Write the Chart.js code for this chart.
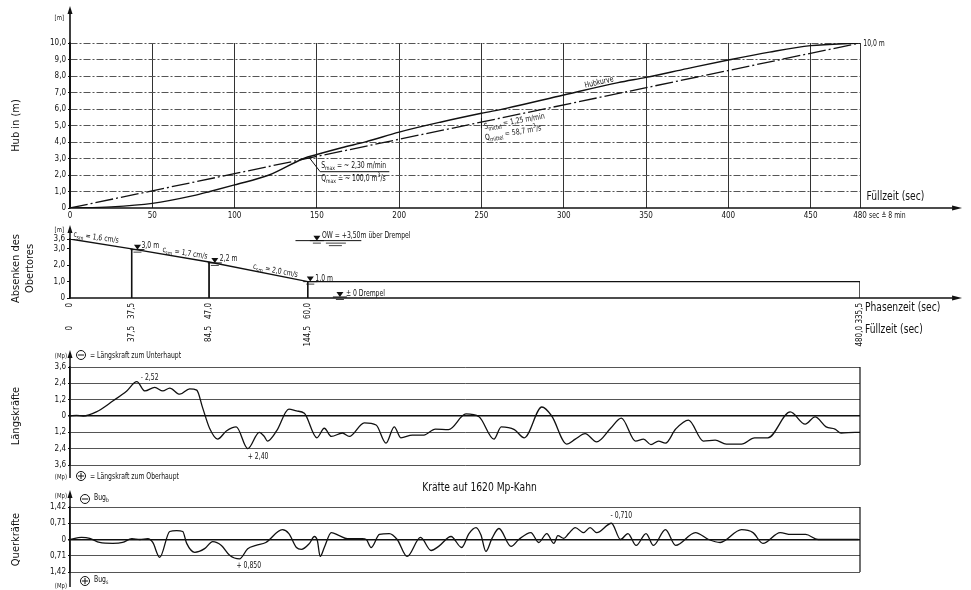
<!DOCTYPE html>
<html>
<head>
<meta charset="utf-8">
<script src="https://cdn.jsdelivr.net/npm/chart.js@4.4.1/dist/chart.umd.min.js"></script>
<style>
  body { margin: 0; background: #fff; }
  #sheet { position: relative; width: 971px; height: 590px; background: #fff; }
  #sheet canvas { position: absolute; left: 0; }
</style>
</head>
<body>
<div id="sheet">
  <canvas id="hubChart" width="971" height="222" style="top:0"></canvas>
  <canvas id="gateChart" width="971" height="126" style="top:222px"></canvas>
  <canvas id="longChart" width="971" height="134" style="top:348px"></canvas>
  <canvas id="crossChart" width="971" height="108" style="top:482px"></canvas>
</div>
<script>
// Hubkurve over Füllzeit (sec -> m)
const fillTimes = [0, 25, 50, 75, 85, 100, 121, 142, 150, 165, 180, 200, 225, 250, 265, 300, 333, 350, 375, 400, 425, 450, 480]
const liftValues = [0, 0.07, 0.28, 0.75, 1.0, 1.4, 2.0, 3.0, 3.24, 3.65, 4.02, 4.6, 5.2, 5.74, 6.04, 6.85, 7.6, 7.92, 8.45, 8.97, 9.45, 9.84, 10.0]
// mean lift (S mittel)
const meanTimes = [0, 480]
const meanLift = [0, 10.0]
const hubTicksX = [0, 50, 100, 150, 200, 250, 300, 350, 400, 450, 480]
const hubTicksY = [0, 1, 2, 3, 4, 5, 6, 7, 8, 9, 10]

// Absenken des Obertores
const gateTimes = [0, 37.5, 84.5, 144.5, 480, 480]
const gateLevels = [3.6, 3.0, 2.2, 1.0, 1.0, 0]
const gateTicksY = [0, 1, 2, 3, 3.6]
const markTimes = [0, 37.5, 84.5, 144.5, 480]
const phaseLabels = ['0', '37,5', '47,0', '60,0', '335,5']
const fillLabels = ['0', '37,5', '84,5', '144,5', '480,0']

// Längskräfte (Mp), negative = zum Unterhaupt (drawn upward)
const longTimes = [0, 4, 8, 16, 26, 34.5, 40.6, 45.5, 51.5, 56.4, 60.6, 66.7, 72.7, 77, 80.6, 84.8, 89.7, 95, 101, 108, 115, 118, 120, 125.5, 133, 137.6, 142.4, 150, 154.5, 158.8, 165.5, 169.7, 178.8, 186, 192, 197, 201, 208, 215, 222, 230, 240.6, 248.5, 257.6, 262, 270, 276, 286.7, 292.7, 301.8, 307, 313, 320, 328.5, 335, 343.6, 348.5, 353, 357.6, 361.8, 368, 375.8, 384.8, 392, 398.8, 408, 416, 424, 437.6, 446.7, 452.7, 459.4, 464.8, 468.5, 477, 480]
const longForces = [0, -0.05, 0, -0.3, -1.1, -1.84, -2.52, -1.84, -2.1, -1.84, -2.05, -1.6, -2.0, -1.9, -0.6, 0.9, 1.7, 1.1, 0.8, 2.4, 1.2, 1.5, 1.84, 1.1, -0.5, -0.37, -0.2, 1.6, 0.9, 1.5, 1.25, 1.5, 0.5, 0.66, 2.0, 0.8, 1.6, 1.4, 1.4, 0.96, 1.0, -0.15, 0.05, 1.7, 0.8, 1.0, 1.6, -0.66, 0, 2.06, 1.7, 1.3, 1.9, 0.9, 0.15, 1.84, 1.7, 2.1, 1.84, 2.0, 0.96, 0.3, 1.84, 1.77, 2.06, 2.06, 1.6, 1.6, -0.3, 0.6, 0.07, 0.8, 0.96, 1.25, 1.2, 1.2]
const longTicks = [-3.6, -2.4, -1.2, 0, 1.2, 2.4, 3.6]

// Querkräfte (Mp), negative = Bug b (drawn upward)
const crossTimes = [0, 7, 12, 18, 26, 32, 37.6, 42.4, 47.3, 50.3, 54.5, 60.6, 64.8, 68.5, 70.9, 75.8, 81.8, 86.7, 92, 97, 103, 108, 113, 119, 129, 133, 137.6, 140.6, 145.5, 148.5, 150.3, 152, 154.5, 158.8, 163.6, 168.5, 177.6, 180, 183, 188, 194, 198.8, 204.8, 213, 219.4, 224, 231.5, 238, 242.4, 246.7, 249.7, 252.7, 256.4, 260.6, 268, 272.7, 280, 284.8, 289.7, 294, 296.4, 300, 303, 307, 312, 316, 320, 329, 334.5, 339, 344, 350, 354.5, 361.8, 368, 380, 388, 395, 408, 415, 421, 431.5, 438, 447, 454.5, 471, 479]
const crossForces = [0, -0.09, -0.05, 0.13, 0.17, 0.13, -0.04, 0, -0.04, 0.13, 0.78, -0.35, -0.39, -0.35, 0.17, 0.56, 0.4, 0.09, 0.26, 0.69, 0.85, 0.4, 0.26, 0.13, -0.43, -0.26, 0.35, 0.43, 0.17, -0.13, 0.05, 0.74, 0.35, -0.3, -0.17, -0.04, -0.04, 0, 0.35, -0.22, -0.26, 0, 0.74, -0.09, 0.48, 0.3, -0.13, 0.35, -0.26, -0.52, -0.2, 0.52, -0.05, -0.48, 0.3, 0, -0.3, 0.13, -0.26, 0.17, -0.17, -0.05, -0.26, -0.52, -0.3, -0.52, -0.3, -0.71, 0, -0.26, 0.26, -0.26, 0.26, -0.43, 0.26, -0.3, 0, 0.13, -0.43, -0.3, 0.17, -0.3, -0.22, -0.22, 0, 0, 0]
const crossTicks = [-1.42, -0.71, 0, 0.71, 1.42]

const INK = '#111'
const FONT = "'DejaVu Sans Condensed', 'Liberation Sans Narrow', 'DejaVu Sans', sans-serif"
const tickFont = { family: FONT, size: 8 }
const titleFont = { family: FONT, size: 11 }

Chart.defaults.color = INK
Chart.defaults.font.family = FONT

const points = (xs, ys) => xs.map((t, i) => ({ x: t, y: ys[i] }))
const comma = digits => v => v === 0 ? '0' : Math.abs(v).toFixed(digits).replace('.', ',')

function write(ctx, str, x, y, size, opts = {}) {
  ctx.save()
  ctx.translate(x, y)
  if (opts.rot) ctx.rotate(opts.rot * Math.PI / 180)
  ctx.scale(opts.squeeze || 0.85, 1)
  ctx.font = `${size}px ${FONT}`
  ctx.fillStyle = INK
  ctx.textAlign = opts.align || 'left'
  ctx.textBaseline = 'alphabetic'
  ctx.fillText(str, 0, 0)
  ctx.restore()
}

// text with sub/superscript pieces
function rich(ctx, parts, x, y, size, rot = 0) {
  ctx.save()
  ctx.translate(x, y)
  ctx.rotate(rot * Math.PI / 180)
  ctx.scale(0.85, 1)
  ctx.fillStyle = INK
  let cx = 0
  parts.forEach(([t, kind]) => {
    ctx.font = `${kind ? Math.round(size * 0.75) : size}px ${FONT}`
    const dy = kind === 'sub' ? size * 0.3 : kind === 'sup' ? -size * 0.45 : 0
    ctx.fillText(t, cx, dy)
    cx += ctx.measureText(t).width
  })
  ctx.restore()
}

function stroke(ctx, pts, width = 1, dash = []) {
  ctx.save()
  ctx.strokeStyle = INK
  ctx.lineWidth = width
  ctx.setLineDash(dash)
  ctx.beginPath()
  pts.forEach(([px, py], i) => i ? ctx.lineTo(px, py) : ctx.moveTo(px, py))
  ctx.stroke()
  ctx.restore()
}

function arrow(ctx, px, py, dir) {
  ctx.save()
  ctx.fillStyle = INK
  ctx.beginPath()
  if (dir === 'up') {
    ctx.moveTo(px, py); ctx.lineTo(px - 2.5, py + 8); ctx.lineTo(px + 2.5, py + 8)
  } else {
    ctx.moveTo(px, py); ctx.lineTo(px - 10, py - 2.5); ctx.lineTo(px - 10, py + 2.5)
  }
  ctx.closePath()
  ctx.fill()
  ctx.restore()
}

// water level mark
function level(ctx, px, py) {
  stroke(ctx, [[px - 7, py], [px + 7, py]], 1)
  ctx.save()
  ctx.fillStyle = INK
  ctx.beginPath()
  ctx.moveTo(px - 3.5, py - 5); ctx.lineTo(px + 3.5, py - 5); ctx.lineTo(px, py)
  ctx.closePath()
  ctx.fill()
  ctx.restore()
  stroke(ctx, [[px - 4, py + 2.5], [px + 4, py + 2.5]], 0.8)
}

function sign(ctx, px, py, plus) {
  ctx.save()
  ctx.strokeStyle = INK
  ctx.lineWidth = 1
  ctx.beginPath()
  ctx.arc(px, py, 4.5, 0, Math.PI * 2)
  ctx.stroke()
  ctx.beginPath()
  ctx.moveTo(px - 3, py); ctx.lineTo(px + 3, py)
  if (plus) { ctx.moveTo(px, py - 3); ctx.lineTo(px, py + 3) }
  ctx.stroke()
  ctx.restore()
}

const baseOptions = (padding) => ({
  responsive: false,
  animation: false,
  devicePixelRatio: 1,
  layout: { padding },
  plugins: { legend: { display: false }, tooltip: { enabled: false } }
})

const lineStyle = { borderColor: INK, borderWidth: 1.3, pointRadius: 0, fill: false }

// ---------- Hub ----------
const hubExtras = {
  id: 'hubExtras',
  afterDraw(chart) {
    const { ctx, scales: { x, y } } = chart
    const p = (t, v) => [x.getPixelForValue(t), y.getPixelForValue(v)]
    const [x0, y0] = p(0, 0)
    stroke(ctx, [[x0, y0], [x.getPixelForValue(536), y0]], 1.6)
    arrow(ctx, x.getPixelForValue(542), y0, 'right')
    stroke(ctx, [[x0, y0], [x0, 12]], 1.6)
    arrow(ctx, x0, 6, 'up')
    write(ctx, '[m]', x0 - 6, 20, 7, { align: 'right' })
    write(ctx, '10,0 m', x.getPixelForValue(482), y.getPixelForValue(10) + 3, 8)
    write(ctx, 'Füllzeit (sec)', x.getPixelForValue(484), y0 - 8, 12)
    write(ctx, 'sec ≙ 8 min', x.getPixelForValue(480) + 9, y0 + 10, 8)

    const knee = p(152, 2.2)
    stroke(ctx, [p(145, 3.1), knee, p(194, 2.2)], 1)
    rich(ctx, [['S'], ['max', 'sub'], [' = ~ 2,30 m/min']], knee[0] + 1, knee[1] - 4, 8)
    rich(ctx, [['Q'], ['max', 'sub'], [' = ~ 100,0 m'], ['3', 'sup'], ['/s']], knee[0] + 1, knee[1] + 9, 8)

    const mean = p(250, 250 * meanLift[1] / meanTimes[1])
    stroke(ctx, [[mean[0], mean[1] - 4], [mean[0], mean[1] + 6]], 1)
    rich(ctx, [['S'], ['mittel', 'sub'], [' = 1,25 m/min']], mean[0] + 3, mean[1] + 7, 8, -10)
    rich(ctx, [['Q'], ['mittel', 'sub'], [' = 58,7 m'], ['3', 'sup'], ['/s']], mean[0] + 4, mean[1] + 18, 8, -10)

    const hk = p(313, 7.1)
    write(ctx, 'Hubkurve', hk[0], hk[1] - 3, 8, { rot: -13 })
  }
}

new Chart(document.getElementById('hubChart'), {
  type: 'line',
  data: {
    datasets: [
      { ...lineStyle, data: points(fillTimes, liftValues), borderWidth: 1.4, cubicInterpolationMode: 'monotone' },
      { ...lineStyle, data: points(meanTimes, meanLift), borderDash: [18, 3, 2, 3] }
    ]
  },
  options: {
    ...baseOptions({ top: 43, right: 111, bottom: 0, left: 0 }),
    scales: {
      x: {
        type: 'linear', min: 0, max: 480,
        afterBuildTicks: s => { s.ticks = hubTicksX.map(v => ({ value: v })) },
        afterFit: s => { s.height = 14 },
        grid: { color: '#333', lineWidth: 1, drawTicks: false },
        border: { display: false },
        ticks: { font: tickFont, color: INK, padding: 3, autoSkip: false, maxRotation: 0, callback: v => String(v) }
      },
      y: {
        min: 0, max: 10,
        afterBuildTicks: s => { s.ticks = hubTicksY.map(v => ({ value: v })) },
        afterFit: s => { s.width = 70 },
        grid: { color: c => c.tick && c.tick.value === 0 ? 'rgba(0,0,0,0)' : '#555', tickColor: INK, tickLength: 2 },
        border: { display: true, color: INK, width: 1.5, dash: [7, 2, 2, 2] },
        ticks: { font: tickFont, color: INK, padding: 2, callback: comma(1) },
        title: { display: true, text: 'Hub in (m)', font: titleFont, color: INK, padding: { top: 10 } }
      }
    }
  },
  plugins: [hubExtras]
})

// ---------- Absenken des Obertores ----------
const gateExtras = {
  id: 'gateExtras',
  afterDraw(chart) {
    const { ctx, scales: { x, y } } = chart
    const p = (t, v) => [x.getPixelForValue(t), y.getPixelForValue(v)]
    const [x0, y0] = p(0, 0)
    stroke(ctx, [[x0, y0], [x.getPixelForValue(536), y0]], 1.6)
    arrow(ctx, x.getPixelForValue(542), y0, 'right')
    stroke(ctx, [[x0, y0], [x0, y.getPixelForValue(4.2)]], 1.5)
    arrow(ctx, x0, y.getPixelForValue(4.45), 'up')
    write(ctx, '[m]', x0 - 6, y.getPixelForValue(4.05), 7, { align: 'right' })
    write(ctx, 'Phasenzeit (sec)', x.getPixelForValue(483), y0 + 13, 12)
    write(ctx, 'Füllzeit (sec)', x.getPixelForValue(483), y0 + 35, 12)

    // velocities along the gate line
    const c1 = p(2, 3.57)
    rich(ctx, [['c'], ['sm', 'sub'], [' = 1,6 cm/s']], c1[0], c1[1] - 3, 8, 8)
    const c2 = p(56, 2.7)
    rich(ctx, [['c'], ['sm', 'sub'], [' = 1,7 cm/s']], c2[0], c2[1] - 2, 8, 9)
    const c3 = p(111, 1.68)
    rich(ctx, [['c'], ['sm', 'sub'], [' = 2,0 cm/s']], c3[0], c3[1] - 2, 8, 11)

    // level marks
    const l1 = p(41, 2.95)
    level(ctx, l1[0], l1[1])
    write(ctx, '3,0 m', l1[0] + 4, l1[1] - 2, 8)
    const l2 = p(88, 2.14)
    level(ctx, l2[0], l2[1])
    write(ctx, '2,2 m', l2[0] + 5, l2[1] - 2, 8)
    const l3 = p(146, 1.0)
    level(ctx, l3[0], l3[1])
    write(ctx, '1,0 m', l3[0] + 5, l3[1] - 1, 8)

    const ow = p(150, 3.5)
    stroke(ctx, [p(137, 3.5), p(177, 3.5)], 1)
    level(ctx, ow[0], ow[1])
    stroke(ctx, [[ow[0] + 9, ow[1] + 2.5], [ow[0] + 29, ow[1] + 2.5]], 0.8)
    stroke(ctx, [[ow[0] + 12, ow[1] + 5], [ow[0] + 25, ow[1] + 5]], 0.8)
    write(ctx, 'OW = +3,50m über Drempel', ow[0] + 5, ow[1] - 3, 8)

    const dr = p(164, 0)
    level(ctx, dr[0], dr[1] - 1)
    write(ctx, '± 0 Drempel', dr[0] + 6, dr[1] - 2, 8)
  }
}

const drops = [1, 2, 3].map(i => ({ ...lineStyle, borderWidth: i === 2 ? 1 : 1.6, data: points([gateTimes[i], gateTimes[i]], [gateLevels[i], 0]) }))

const bottomAxis = (labels, height, padding, weight) => ({
  type: 'linear', min: 0, max: 480, position: 'bottom', weight,
  afterBuildTicks: s => { s.ticks = markTimes.map(v => ({ value: v })) },
  afterFit: s => { s.height = height },
  grid: { drawOnChartArea: false, drawTicks: false },
  border: { display: false },
  ticks: { font: tickFont, color: INK, padding, autoSkip: false, minRotation: 90, maxRotation: 90, callback: (v, i) => labels[i] }
})

new Chart(document.getElementById('gateChart'), {
  type: 'line',
  data: {
    datasets: [
      { ...lineStyle, data: points(gateTimes, gateLevels), borderWidth: 1.4 },
      ...drops
    ]
  },
  options: {
    ...baseOptions({ top: 17, right: 111, bottom: 0, left: 0 }),
    scales: {
      x: bottomAxis(phaseLabels, 25, 5, 0),
      x2: bottomAxis(fillLabels, 25, 3, 1),
      y: {
        min: 0, max: 3.6,
        afterBuildTicks: s => { s.ticks = gateTicksY.map(v => ({ value: v })) },
        afterFit: s => { s.width = 70 },
        grid: { drawOnChartArea: false, tickColor: INK, tickLength: 3 },
        border: { display: true, color: INK, width: 1.5 },
        ticks: { font: tickFont, color: INK, padding: 2, callback: comma(1) },
        title: { display: true, text: ['Absenken des', 'Obertores'], font: titleFont, color: INK, padding: { top: 10 } }
      }
    }
  },
  plugins: [gateExtras]
})

// ---------- force panels ----------
const forceScale = (ticks, max, digits, title) => ({
  reverse: true, min: -max, max,
  afterBuildTicks: s => { s.ticks = ticks.map(v => ({ value: v })) },
  afterFit: s => { s.width = 70 },
  grid: {
    color: c => c.tick && c.tick.value === 0 ? INK : '#555',
    lineWidth: c => c.tick && c.tick.value === 0 ? 1.5 : 1,
    tickColor: INK, tickLength: 2
  },
  border: { display: true, color: INK, width: 1.5 },
  ticks: { font: tickFont, color: INK, padding: 2, callback: comma(digits) },
  title: { display: true, text: title, font: titleFont, color: INK, padding: { top: 10 } }
})

const longExtras = {
  id: 'longExtras',
  afterDraw(chart) {
    const { ctx, chartArea: a, scales: { x, y } } = chart
    const x0 = a.left
    stroke(ctx, [[x0, a.top - 12], [x0, a.bottom + 13]], 1.5)
    arrow(ctx, x0, a.top - 17, 'up')
    stroke(ctx, [[a.right, a.top], [a.right, a.bottom]], 1.2)
    write(ctx, '(Mp)', x0 - 3, a.top - 9, 7, { align: 'right' })
    write(ctx, '(Mp)', x0 - 3, a.bottom + 14, 7, { align: 'right' })
    sign(ctx, x0 + 11, a.top - 12, false)
    write(ctx, '= Längskraft zum Unterhaupt', x0 + 20, a.top - 9, 8)
    sign(ctx, x0 + 11, a.bottom + 11, true)
    write(ctx, '= Längskraft zum Oberhaupt', x0 + 20, a.bottom + 14, 8)
    const lo = longForces.indexOf(Math.min(...longForces))
    const hi = longForces.indexOf(Math.max(...longForces))
    write(ctx, '- 2,52', x.getPixelForValue(longTimes[lo]) + 4, y.getPixelForValue(longForces[lo]) - 2, 8)
    write(ctx, '+ 2,40', x.getPixelForValue(longTimes[hi]), y.getPixelForValue(longForces[hi]) + 10, 8)
  }
}

new Chart(document.getElementById('longChart'), {
  type: 'line',
  data: { datasets: [{ ...lineStyle, data: points(longTimes, longForces), cubicInterpolationMode: 'monotone' }] },
  options: {
    ...baseOptions({ top: 19, right: 111, bottom: 17, left: 0 }),
    scales: {
      x: { type: 'linear', min: 0, max: 480, display: false },
      y: forceScale(longTicks, 3.6, 1, 'Längskräfte')
    }
  },
  plugins: [longExtras]
})

const crossExtras = {
  id: 'crossExtras',
  afterDraw(chart) {
    const { ctx, chartArea: a, scales: { x, y } } = chart
    const x0 = a.left
    stroke(ctx, [[x0, a.top - 12], [x0, a.bottom + 15]], 1.5)
    arrow(ctx, x0, a.top - 17, 'up')
    stroke(ctx, [[a.right, a.top], [a.right, a.bottom]], 1.2)
    write(ctx, 'Kräfte auf 1620 Mp-Kahn', x.getPixelForValue(214), a.top - 16, 12)
    write(ctx, '(Mp)', x0 - 3, a.top - 9, 7, { align: 'right' })
    write(ctx, '(Mp)', x0 - 3, a.bottom + 16, 7, { align: 'right' })
    sign(ctx, x0 + 15, a.top - 8, false)
    rich(ctx, [['Bug'], ['b', 'sub']], x0 + 24, a.top - 7, 8)
    sign(ctx, x0 + 15, a.bottom + 9, true)
    rich(ctx, [['Bug'], ['s', 'sub']], x0 + 24, a.bottom + 10, 8)
    const lo = crossForces.indexOf(Math.min(...crossForces))
    const hi = crossForces.indexOf(Math.max(...crossForces))
    write(ctx, '- 0,710', x.getPixelForValue(crossTimes[lo]) - 1, y.getPixelForValue(crossForces[lo]) - 5, 8)
    write(ctx, '+ 0,850', x.getPixelForValue(crossTimes[hi]) - 3, y.getPixelForValue(crossForces[hi]) + 9, 8)
  }
}

new Chart(document.getElementById('crossChart'), {
  type: 'line',
  data: { datasets: [{ ...lineStyle, data: points(crossTimes, crossForces), cubicInterpolationMode: 'monotone' }] },
  options: {
    ...baseOptions({ top: 25, right: 111, bottom: 18, left: 0 }),
    scales: {
      x: { type: 'linear', min: 0, max: 480, display: false },
      y: forceScale(crossTicks, 1.42, 2, 'Querkräfte')
    }
  },
  plugins: [crossExtras]
})
</script>
</body>
</html>
